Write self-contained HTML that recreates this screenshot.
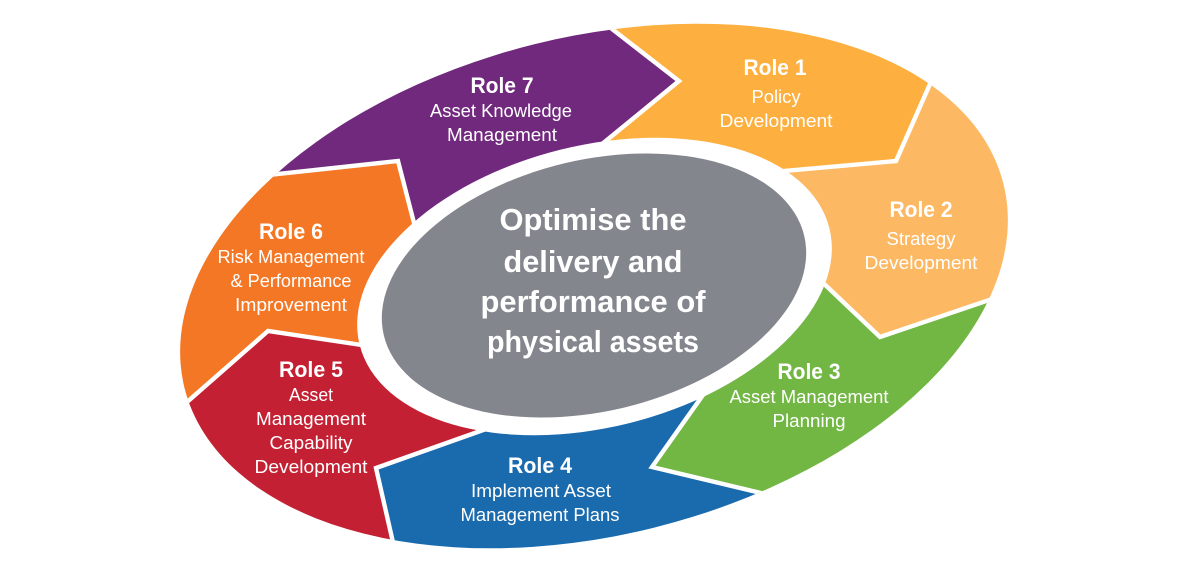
<!DOCTYPE html>
<html lang="en">
<head>
<meta charset="utf-8">
<title>Roles diagram</title>
<style>
html,body{margin:0;padding:0;background:#fff;width:1200px;height:572px;overflow:hidden}
svg{display:block}
text{font-family:"Liberation Sans",sans-serif;fill:#fff;text-anchor:middle}
.h{font-weight:700;font-size:22px}
.s{font-size:18px}
.c{font-weight:700;font-size:31px}
</style>
</head>
<body>
<svg width="1200" height="572" viewBox="0 0 1200 572" xmlns="http://www.w3.org/2000/svg">
<defs>
<clipPath id="o"><ellipse cx="594" cy="286" rx="422" ry="249" transform="rotate(-14 594 286)"/></clipPath>
</defs>
<g clip-path="url(#o)">
<polygon fill="#FDB040" points="585,8 679,81 585,158 594,286 750,174 896,161 945,50 700,-20"/>
<polygon fill="#FDB863" points="945,50 896,161 750,174 594,286 800,261 880,337 1010,293 1060,200 1020,90"/>
<polygon fill="#72B644" points="1010,293 880,337 800,261 594,286 715,378 652,467 790,500 900,450"/>
<polygon fill="#1A6AAE" points="790,500 652,467 715,378 594,286 520,417 376,468 397,560 600,570"/>
<polygon fill="#C32033" points="397,560 376,468 520,417 594,286 375,347 268,331 170,417 170,480 280,540"/>
<polygon fill="#F47725" points="170,417 268,331 375,347 594,286 421,250 398,161 250,177 150,300"/>
<polygon fill="#71297D" points="250,177 398,161 421,250 594,286 585,158 679,81 585,8 400,60"/>
<g fill="none" stroke="#fff" stroke-width="4.4" stroke-linejoin="miter" stroke-miterlimit="6">
<polyline points="585,8 679,81 585,158"/>
<polyline points="945,50 896,161 750,174"/>
<polyline points="1010,293 880,337 800,261"/>
<polyline points="715,378 652,467 790,500"/>
<polyline points="520,417 376,468 397,560"/>
<polyline points="375,347 268,331 170,417"/>
<polyline points="421,250 398,161 250,177"/>
</g>
</g>
<ellipse cx="594.5" cy="286.5" rx="242" ry="141" fill="#fff" transform="rotate(-13.9 594.5 286.5)"/>
<ellipse cx="594" cy="285.5" rx="216" ry="125.7" fill="#83868D" transform="rotate(-13.3 594 285.5)"/>

<text class="h" x="775" y="75" textLength="63" lengthAdjust="spacingAndGlyphs">Role 1</text>
<text class="s" x="776" y="103" textLength="49" lengthAdjust="spacingAndGlyphs">Policy</text>
<text class="s" x="776" y="127" textLength="113" lengthAdjust="spacingAndGlyphs">Development</text>

<text class="h" x="921" y="217" textLength="63" lengthAdjust="spacingAndGlyphs">Role 2</text>
<text class="s" x="921" y="245" textLength="69" lengthAdjust="spacingAndGlyphs">Strategy</text>
<text class="s" x="921" y="269" textLength="113" lengthAdjust="spacingAndGlyphs">Development</text>

<text class="h" x="809" y="379" textLength="63" lengthAdjust="spacingAndGlyphs">Role 3</text>
<text class="s" x="809" y="403" textLength="159" lengthAdjust="spacingAndGlyphs">Asset Management</text>
<text class="s" x="809" y="427" textLength="73" lengthAdjust="spacingAndGlyphs">Planning</text>

<text class="h" x="540" y="473" textLength="64" lengthAdjust="spacingAndGlyphs">Role 4</text>
<text class="s" x="541" y="497" textLength="140" lengthAdjust="spacingAndGlyphs">Implement Asset</text>
<text class="s" x="540" y="521" textLength="159" lengthAdjust="spacingAndGlyphs">Management Plans</text>

<text class="h" x="311" y="377" textLength="64" lengthAdjust="spacingAndGlyphs">Role 5</text>
<text class="s" x="311" y="401" textLength="44" lengthAdjust="spacingAndGlyphs">Asset</text>
<text class="s" x="311" y="425" textLength="110" lengthAdjust="spacingAndGlyphs">Management</text>
<text class="s" x="311" y="449" textLength="83" lengthAdjust="spacingAndGlyphs">Capability</text>
<text class="s" x="311" y="473" textLength="113" lengthAdjust="spacingAndGlyphs">Development</text>

<text class="h" x="291" y="239" textLength="64" lengthAdjust="spacingAndGlyphs">Role 6</text>
<text class="s" x="291" y="263" textLength="147" lengthAdjust="spacingAndGlyphs">Risk Management</text>
<text class="s" x="291" y="287" textLength="121" lengthAdjust="spacingAndGlyphs">&amp; Performance</text>
<text class="s" x="291" y="311" textLength="112" lengthAdjust="spacingAndGlyphs">Improvement</text>

<text class="h" x="502" y="93" textLength="63" lengthAdjust="spacingAndGlyphs">Role 7</text>
<text class="s" x="501" y="117" textLength="142" lengthAdjust="spacingAndGlyphs">Asset Knowledge</text>
<text class="s" x="502" y="141" textLength="110" lengthAdjust="spacingAndGlyphs">Management</text>

<text class="c" x="593" y="230" textLength="187" lengthAdjust="spacingAndGlyphs">Optimise the</text>
<text class="c" x="593" y="272" textLength="179" lengthAdjust="spacingAndGlyphs">delivery and</text>
<text class="c" x="593" y="312" textLength="225" lengthAdjust="spacingAndGlyphs">performance of</text>
<text class="c" x="593" y="352" textLength="212" lengthAdjust="spacingAndGlyphs">physical assets</text>
</svg>
</body>
</html>
